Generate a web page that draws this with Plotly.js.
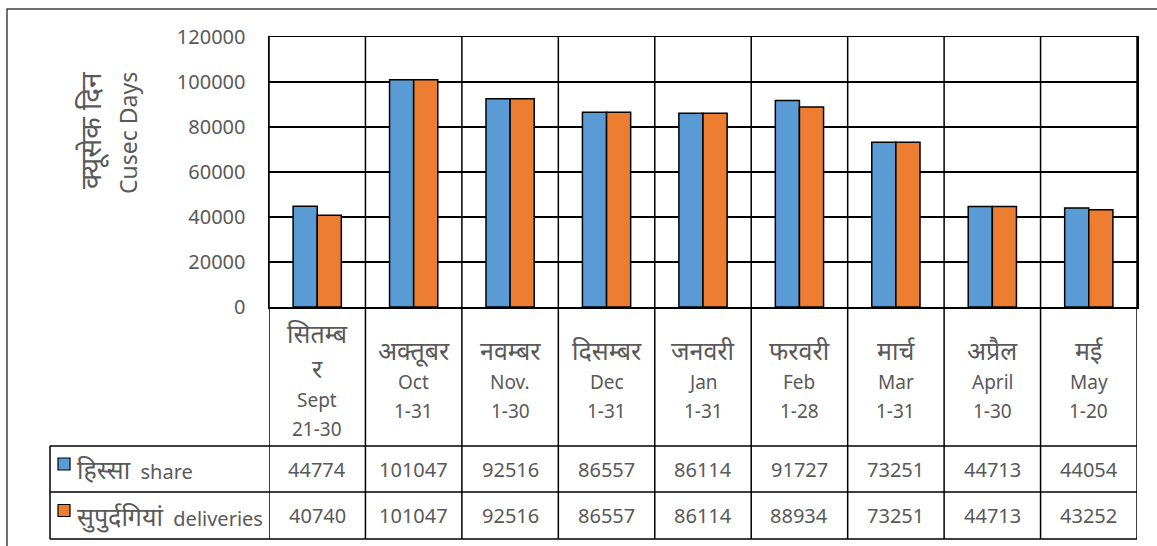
<!DOCTYPE html>
<html>
<head>
<meta charset="utf-8">
<script src="https://cdn.plot.ly/plotly-3.0.1.min.js"></script>
<style>html,body{margin:0;padding:0;background:#fff;}#chart{width:1157px;height:546px;}</style>
</head>
<body>
<div id="chart"></div>
<script>
// ---- data ----
const monthsHi = ["सितम्ब<br>र", "अक्तूबर", "नवम्बर", "दिसम्बर", "जनवरी", "फरवरी", "मार्च", "अप्रैल", "मई"];
const monthsEn = ["Sept", "Oct", "Nov.", "Dec", "Jan", "Feb", "Mar", "April", "May"];
const dayRanges = ["21-30", "1-31", "1-30", "1-31", "1-31", "1-28", "1-31", "1-30", "1-20"];
const shareValues = [44774, 101047, 92516, 86557, 86114, 91727, 73251, 44713, 44054];
const deliveryValues = [40740, 101047, 92516, 86557, 86114, 88934, 73251, 44713, 43252];
const seriesHi = ["हिस्सा", "सुपुर्दगियां"];
const seriesEn = ["share", "deliveries"];
const yTitleLines = ["क्यूसेक दिन", "Cusec Days"];

// ---- layout geometry ----
const W = 1157, H = 546;
const PL = 269, PR = 1137, PT = 37, PB = 307;
const FONT = "Noto Sans, Noto Sans Devanagari, sans-serif";
const GREY = "#595959";
const HI_SIZE = 25, EN_SIZE = 19, NUM_SIZE = 20;
const px = p => (p - PL) / (PR - PL);
const py = p => (PB - p) / (PB - PT);

const cats = monthsEn.map((m, i) => i);
const traces = [
  {type: "bar", x: cats, y: shareValues, name: seriesEn[0],
   marker: {color: "#5B9BD5", line: {color: "#000", width: 1.5}}, hoverinfo: "y"},
  {type: "bar", x: cats, y: deliveryValues, name: seriesEn[1],
   marker: {color: "#ED7D31", line: {color: "#000", width: 1.5}}, hoverinfo: "y"}
];

const shapes = [];
const annotations = [];
const n = cats.length;
const rowTop = 446, rowMid = 492, rowBot = 539, legLeft = 50;

// outer frame
shapes.push({type: "rect", xref: "paper", yref: "paper", x0: px(7), x1: px(1170), y0: py(9), y1: py(560),
  line: {color: "#404040", width: 1.5}, layer: "below"});

// vertical category boundary lines through plot and table
for (let i = 0; i <= n; i++) {
  shapes.push({type: "line", xref: "x", yref: "paper", x0: i - 0.5, x1: i - 0.5, y0: py(rowBot), y1: 1,
    line: {color: "#000", width: 1.5}, layer: "above"});
}
// table horizontals
[rowTop, rowMid, rowBot].forEach(r => {
  shapes.push({type: "line", xref: "paper", yref: "paper", x0: px(legLeft), x1: 1, y0: py(r), y1: py(r),
    line: {color: "#000", width: 1.5}});
});
// legend column left border
shapes.push({type: "line", xref: "paper", yref: "paper", x0: px(legLeft), x1: px(legLeft), y0: py(rowTop), y1: py(rowBot),
  line: {color: "#000", width: 1.5}});

// category labels (line by line)
for (let i = 0; i < n; i++) {
  const lines = monthsHi[i].split("<br>").map(t => ({t: t, h: 35, s: HI_SIZE}))
    .concat([{t: monthsEn[i], h: 29, s: EN_SIZE}, {t: dayRanges[i], h: 29, s: EN_SIZE}]);
  const total = lines.reduce((a, l) => a + l.h, 0);
  let cur = 379 - total / 2;
  lines.forEach(l => {
    annotations.push({xref: "x", yref: "paper", x: i, y: py(cur + l.h / 2), text: l.t, showarrow: false,
      xanchor: "center", yanchor: "middle", font: {family: FONT, size: l.s, color: GREY}});
    cur += l.h;
  });
  annotations.push({xref: "x", yref: "paper", x: i, y: py((rowTop + rowMid) / 2), text: String(shareValues[i]),
    showarrow: false, xanchor: "center", yanchor: "middle", font: {family: FONT, size: NUM_SIZE, color: GREY}});
  annotations.push({xref: "x", yref: "paper", x: i, y: py((rowMid + rowBot) / 2), text: String(deliveryValues[i]),
    showarrow: false, xanchor: "center", yanchor: "middle", font: {family: FONT, size: NUM_SIZE, color: GREY}});
}

// legend keys in table
const legColors = ["#5B9BD5", "#ED7D31"];
[(rowTop + rowMid) / 2, (rowMid + rowBot) / 2].forEach((c, k) => {
  shapes.push({type: "rect", xref: "paper", yref: "paper", x0: px(58), x1: px(70), y0: py(c - 11), y1: py(c + 1),
    fillcolor: legColors[k], line: {color: "#000", width: 1.2}});
  annotations.push({xref: "paper", yref: "paper", x: px(75), y: py(c), showarrow: false,
    text: "<span style='font-size:" + HI_SIZE + "px'>" + seriesHi[k] + "</span>&nbsp;&nbsp;" + seriesEn[k],
    xanchor: "left", yanchor: "middle", font: {family: FONT, size: 20, color: GREY}});
});

// y-axis title
annotations.push({xref: "paper", yref: "paper", x: px(90), y: py(131), text: yTitleLines[0], showarrow: false,
  textangle: -90, xanchor: "center", yanchor: "middle", font: {family: FONT, size: 28, color: GREY}});
annotations.push({xref: "paper", yref: "paper", x: px(128), y: py(133), text: yTitleLines[1], showarrow: false,
  textangle: -90, xanchor: "center", yanchor: "middle", font: {family: FONT, size: 23, color: GREY}});

const layout = {
  width: W, height: H,
  margin: {l: PL, r: W - PR, t: PT, b: H - PB, pad: 0},
  paper_bgcolor: "#fff", plot_bgcolor: "#fff",
  showlegend: false,
  barmode: "group", bargap: 0.5, bargroupgap: 0,
  xaxis: {range: [-0.5, n - 0.5], showticklabels: false, ticks: "", showgrid: false, zeroline: false,
    showline: true, linecolor: "#000", linewidth: 1.5, mirror: true, fixedrange: true},
  yaxis: {range: [0, 120000], dtick: 20000, tickformat: "d", showgrid: true, gridcolor: "#000", gridwidth: 1.5,
    zeroline: false, showline: true, linecolor: "#000", linewidth: 1.5, mirror: true,
    ticks: "outside", ticklen: 18, tickcolor: "rgba(0,0,0,0)",
    tickfont: {family: FONT, size: NUM_SIZE, color: GREY}, fixedrange: true},
  shapes: shapes,
  annotations: annotations,
  font: {family: FONT}
};

Plotly.newPlot("chart", traces, layout, {displayModeBar: false, staticPlot: true});
</script>
</body>
</html>
